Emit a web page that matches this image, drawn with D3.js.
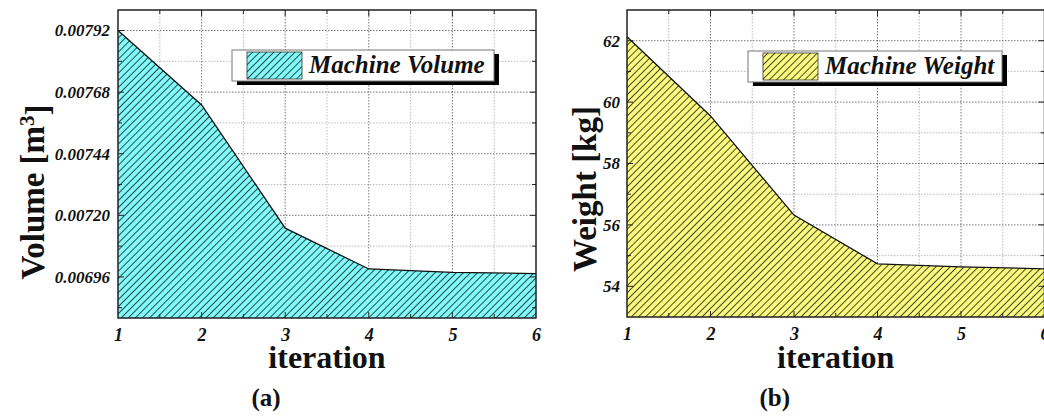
<!DOCTYPE html>
<html><head><meta charset="utf-8">
<script src="https://cdn.jsdelivr.net/npm/d3@7"></script>
<style>
html,body{margin:0;padding:0;background:#fff;overflow:hidden;}
svg{display:block;}
</style></head>
<body>
<svg id="chart" width="1044" height="416"></svg>
<script>
// ---- data ----
const iterations = [1, 2, 3, 4, 5, 6];
const volumeValues = [0.00792, 0.00763, 0.00715, 0.006991, 0.006978, 0.006973];
const weightValues = [62.13, 59.55, 56.32, 54.73, 54.63, 54.57];
const xTickValues = [1, 2, 3, 4, 5, 6];
const volumeTickValues = [0.00696, 0.00720, 0.00744, 0.00768, 0.00792];
const weightTickValues = [54, 56, 58, 60, 62];
const volumeDomain = [0.0068, 0.0080];
const weightDomain = [53, 63];
const seriesNames = ["Machine Volume", "Machine Weight"];
const panelLabels = ["(a)", "(b)"];

const FONT = '"Liberation Serif"';
const svg = d3.select("#chart");
const defs = svg.append("defs");

function hatch(id, color) {
  const p = defs.append("pattern").attr("id", id)
    .attr("patternUnits", "userSpaceOnUse")
    .attr("width", 5).attr("height", 5)
    .attr("patternTransform", "rotate(45)");
  p.append("rect").attr("width", 5).attr("height", 5).attr("fill", color);
  p.append("line").attr("x1", 0).attr("y1", 0).attr("x2", 0).attr("y2", 5)
    .attr("stroke", "#1a1a1a").attr("stroke-width", 1.6);
}
hatch("hatchCyan", "#7ffcfc");
hatch("hatchYellow", "#fcfc7c");

function txt(sel) {
  return sel.style("font-family", FONT).attr("fill", "#111");
}

const panels = [
  { x0: 118, x1: 536, y0: 10, y1: 318, values: volumeValues, domain: volumeDomain,
    ticks: volumeTickValues, minorStep: 0.00012, fmt: d3.format(".5f"),
    fill: "url(#hatchCyan)", name: seriesNames[0], label: panelLabels[0],
    titleX: 32, titleY: 192, legX: 232, legY: 50, legW: 262, legH: 31, tickGap: 8 },
  { x0: 627, x1: 1044.5, y0: 10, y1: 317, values: weightValues, domain: weightDomain,
    ticks: weightTickValues, minorStep: 1, fmt: d3.format("d"),
    fill: "url(#hatchYellow)", name: seriesNames[1], label: panelLabels[1],
    titleX: 584, titleY: 189, legX: 748, legY: 51, legW: 254, legH: 31, tickGap: 7 }
];

panels.forEach((P, pi) => {
  const g = svg.append("g");
  const x = d3.scaleLinear().domain([1, 6]).range([P.x0, P.x1]);
  const y = d3.scaleLinear().domain(P.domain).range([P.y1, P.y0]);

  g.append("rect").attr("x", P.x0).attr("y", P.y0)
    .attr("width", P.x1 - P.x0).attr("height", P.y1 - P.y0).attr("fill", "#fff");

  // grid
  const xGrid = d3.range(1.5, 6, 0.5);
  g.selectAll(".vg").data(xGrid).enter().append("line")
    .attr("x1", d => x(d)).attr("x2", d => x(d)).attr("y1", P.y0).attr("y2", P.y1)
    .attr("stroke", d => Number.isInteger(d) ? "#555" : "#aaa")
    .attr("stroke-width", 0.8).attr("stroke-dasharray", "1.5,1.5");
  const minor = [];
  for (let v = P.ticks[0] - P.minorStep; v <= P.domain[1] + 1e-12; v += P.minorStep) {
    if (v >= P.domain[0] - 1e-12) minor.push(v);
  }
  const yGrid = minor.filter(v => v > P.domain[0] + 1e-12 && v < P.domain[1] - 1e-12);
  const isMajor = d => P.ticks.some(t => Math.abs(t - d) < P.minorStep / 10);
  g.selectAll(".hg").data(yGrid).enter().append("line")
    .attr("x1", P.x0).attr("x2", P.x1).attr("y1", d => y(d)).attr("y2", d => y(d))
    .attr("stroke", d => isMajor(d) ? "#555" : "#aaa")
    .attr("stroke-width", 0.8).attr("stroke-dasharray", "1.5,1.5");

  // area
  const data = iterations.map((it, i) => ({ it, v: P.values[i] }));
  const area = d3.area().x(d => x(d.it)).y0(P.y1).y1(d => y(d.v));
  const line = d3.line().x(d => x(d.it)).y(d => y(d.v));
  g.append("path").datum(data).attr("d", area).attr("fill", P.fill);
  g.append("path").datum(data).attr("d", line).attr("fill", "none")
    .attr("stroke", "#111").attr("stroke-width", 1.3);

  // ticks (inward, all sides)
  const tickG = g.append("g").attr("stroke", "#222").attr("stroke-width", 1);
  xGrid.forEach(d => {
    const L = Number.isInteger(d) ? 6 : 4;
    tickG.append("line").attr("x1", x(d)).attr("x2", x(d)).attr("y1", P.y1).attr("y2", P.y1 - L);
    tickG.append("line").attr("x1", x(d)).attr("x2", x(d)).attr("y1", P.y0).attr("y2", P.y0 + L);
  });
  yGrid.forEach(d => {
    const L = isMajor(d) ? 6 : 4;
    tickG.append("line").attr("x1", P.x0).attr("x2", P.x0 + L).attr("y1", y(d)).attr("y2", y(d));
    tickG.append("line").attr("x1", P.x1).attr("x2", P.x1 - L).attr("y1", y(d)).attr("y2", y(d));
  });

  // frame
  g.append("rect").attr("x", P.x0).attr("y", P.y0)
    .attr("width", P.x1 - P.x0).attr("height", P.y1 - P.y0)
    .attr("fill", "none").attr("stroke", "#222").attr("stroke-width", 1.5);

  // axes
  const xAxis = d3.axisBottom(x).tickValues(xTickValues).tickSize(0).tickPadding(10)
    .tickFormat(d3.format("d"));
  const xa = g.append("g").attr("transform", `translate(0,${P.y1})`).call(xAxis);
  xa.select(".domain").remove();
  txt(xa.selectAll("text")).attr("font-style", "italic")
    .attr("font-weight", "bold").attr("font-size", 18);

  const yAxis = d3.axisLeft(y).tickValues(P.ticks).tickSize(0).tickPadding(P.tickGap)
    .tickFormat(P.fmt);
  const ya = g.append("g").attr("transform", `translate(${P.x0},0)`).call(yAxis);
  ya.select(".domain").remove();
  txt(ya.selectAll("text")).attr("font-style", "italic")
    .attr("font-weight", "bold").attr("font-size", 17);

  // x title
  txt(g.append("text")).attr("x", (P.x0 + P.x1) / 2).attr("y", 368)
    .attr("text-anchor", "middle").attr("font-weight", "bold").attr("font-size", 32)
    .text("iteration");

  // y title
  const yt = txt(g.append("text")).attr("transform", `translate(${P.titleX},${P.titleY}) rotate(-90)`)
    .attr("text-anchor", "middle").attr("dy", "0.35em")
    .attr("font-weight", "bold").attr("font-size", 33);
  if (pi === 0) {
    yt.append("tspan").text("Volume [m");
    yt.append("tspan").attr("dy", "-0.45em").attr("font-size", 21).text("3");
    yt.append("tspan").attr("dy", "0.45em").text("]");
  } else {
    yt.text("Weight [kg]");
  }

  // legend
  const lg = g.append("g");
  lg.append("rect").attr("x", P.legX + 5).attr("y", P.legY + 4)
    .attr("width", P.legW).attr("height", P.legH).attr("fill", "#000");
  lg.append("rect").attr("x", P.legX).attr("y", P.legY)
    .attr("width", P.legW).attr("height", P.legH).attr("fill", "#fff")
    .attr("stroke", "#777").attr("stroke-width", 1);
  lg.append("rect").attr("x", P.legX + 15).attr("y", P.legY + 2)
    .attr("width", 55).attr("height", P.legH - 4).attr("fill", P.fill)
    .attr("stroke", "#333").attr("stroke-width", 0.8);
  txt(lg.append("text")).attr("x", P.legX + 77).attr("y", P.legY + 23)
    .attr("font-weight", "bold").attr("font-style", "italic").attr("font-size", 25)
    .text(P.name);

  // panel label
  txt(g.append("text")).attr("x", (P.x0 + P.x1) / 2 - 61).attr("y", 406)
    .attr("text-anchor", "middle").attr("font-weight", "bold").attr("font-size", 25)
    .text(P.label);
});
</script>
</body></html>
